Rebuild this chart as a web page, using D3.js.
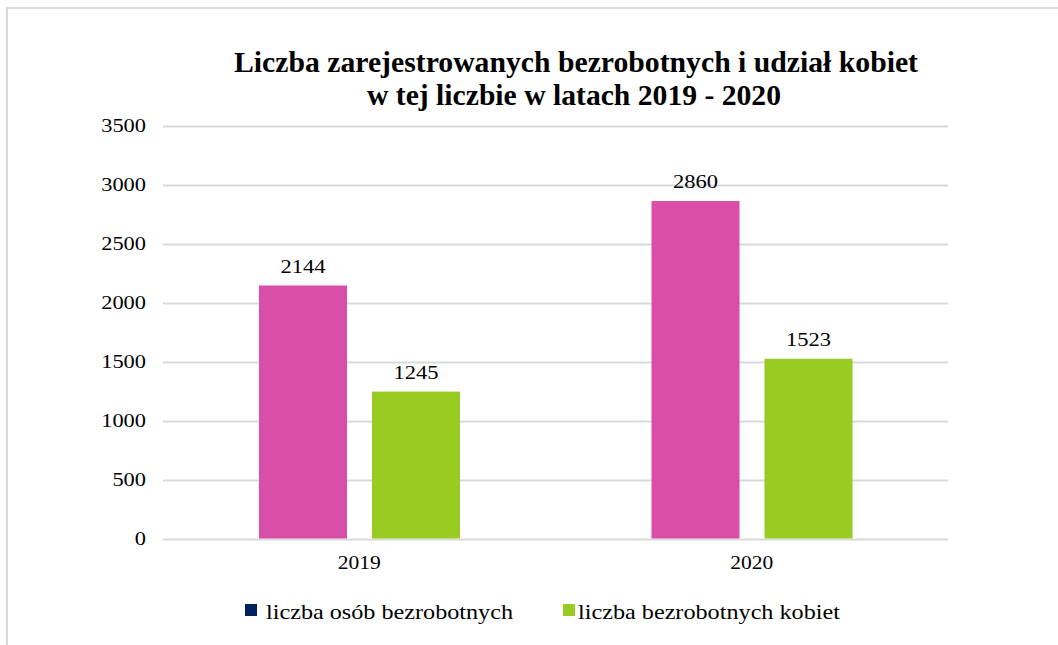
<!DOCTYPE html>
<html>
<head>
<meta charset="utf-8">
<script src="https://cdn.jsdelivr.net/npm/d3@7"></script>
<style>
  body { margin: 0; background: #fff; }
  text { font-family: "Liberation Serif", "Times New Roman", serif; fill: #000; }
</style>
</head>
<body>
<script>
// data
var years = ["2019", "2020"];
var seriesNames = ["liczba osób bezrobotnych", "liczba bezrobotnych kobiet"];
var totalUnemployed = [2144, 2860];
var womenUnemployed = [1245, 1523];
var yTicks = [0, 500, 1000, 1500, 2000, 2500, 3000, 3500];
var titleLines = ["Liczba zarejestrowanych bezrobotnych i udział  kobiet", "w tej liczbie  w latach 2019 - 2020"];

var w = 1058, h = 645;
var barColors = ["#d94ea6", "#99cc22"];
var legendColors = ["#002060", "#99cc22"];

var svg = d3.select("body").append("svg")
  .attr("width", w)
  .attr("height", h);

svg.append("rect").attr("width", w).attr("height", h).attr("fill", "#fff");

// chart area border (top + left visible)
svg.append("path")
  .attr("d", "M7,645 L7,8 L1058,8")
  .attr("fill", "none")
  .attr("stroke", "#d9d9d9")
  .attr("stroke-width", 2);

// title
svg.selectAll("text.title")
  .data(titleLines)
  .enter().append("text")
  .attr("class", "title")
  .attr("x", function(d, i) { return i == 0 ? 576 : 574; })
  .attr("y", function(d, i) { return 72 + i * 33; })
  .attr("text-anchor", "middle")
  .attr("font-size", 30)
  .attr("font-weight", "bold")
  .attr("textLength", function(d, i) { return i == 0 ? 684 : 414; })
  .attr("lengthAdjust", "spacingAndGlyphs")
  .text(function(d) { return d; });

var pLeft = 163, pRight = 948, pTop = 125.5, pBottom = 538.5;

var y = d3.scaleLinear().domain([0, 3500]).range([pBottom, pTop]);
var x0 = d3.scaleBand().domain(years).range([pLeft, pRight]);
var x1 = d3.scaleBand().domain([0, 1]).range([x0.bandwidth() * 0.2446, x0.bandwidth() * 0.7567]).paddingInner(0.221);

// gridlines
svg.append("g")
  .selectAll("line")
  .data(yTicks)
  .enter().append("line")
  .attr("x1", pLeft).attr("x2", pRight)
  .attr("y1", function(d) { return Math.round(y(d)) + 0.5; })
  .attr("y2", function(d) { return Math.round(y(d)) + 0.5; })
  .attr("stroke", "#d9d9d9")
  .attr("stroke-width", 2);

// y axis labels
var yAxis = d3.axisLeft(y).tickValues(yTicks).tickFormat(d3.format("d")).tickSize(0).tickPadding(0);
var ga = svg.append("g").attr("transform", "translate(146,0)").call(yAxis);
ga.select(".domain").remove();
ga.selectAll("text")
  .attr("font-size", 18)
  .attr("font-family", "Liberation Serif, serif")
  .attr("fill", "#000")
  .attr("dy", "0.35em")
  .attr("textLength", function(d) { return String(d).length * 11.2; })
  .attr("lengthAdjust", "spacingAndGlyphs");

// x axis labels
var xAxis = d3.axisBottom(x0).tickSize(0).tickPadding(0);
var gx = svg.append("g").attr("transform", "translate(0,563)").call(xAxis);
gx.select(".domain").remove();
gx.selectAll("text")
  .attr("font-size", 18)
  .attr("font-family", "Liberation Serif, serif")
  .attr("fill", "#000")
  .attr("dy", "0.35em")
  .attr("textLength", 43)
  .attr("lengthAdjust", "spacingAndGlyphs");

// bars
var rows = years.map(function(yr, i) {
  return { year: yr, values: [totalUnemployed[i], womenUnemployed[i]] };
});

var groups = svg.selectAll("g.year")
  .data(rows)
  .enter().append("g")
  .attr("class", "year")
  .attr("transform", function(d) { return "translate(" + x0(d.year) + ",0)"; });

groups.selectAll("rect")
  .data(function(d) { return d.values; })
  .enter().append("rect")
  .attr("x", function(d, i) { return x1(i); })
  .attr("width", x1.bandwidth())
  .attr("y", function(d) { return y(d); })
  .attr("height", function(d) { return pBottom - y(d); })
  .attr("fill", function(d, i) { return barColors[i]; });

groups.selectAll("text.val")
  .data(function(d) { return d.values; })
  .enter().append("text")
  .attr("class", "val")
  .attr("x", function(d, i) { return x1(i) + x1.bandwidth() / 2; })
  .attr("y", function(d) { return y(d) - 13; })
  .attr("text-anchor", "middle")
  .attr("font-size", 19)
  .attr("textLength", 45)
  .attr("lengthAdjust", "spacingAndGlyphs")
  .text(function(d) { return d; });

// legend
var legendX = [245, 563];
var legendLen = [247, 262];
var lg = svg.selectAll("g.legend")
  .data(seriesNames)
  .enter().append("g")
  .attr("class", "legend")
  .attr("transform", function(d, i) { return "translate(" + legendX[i] + ",0)"; });

lg.append("rect")
  .attr("x", 0).attr("y", 604)
  .attr("width", 12).attr("height", 12)
  .attr("fill", function(d, i) { return legendColors[i]; });

lg.append("text")
  .attr("x", function(d, i) { return i == 0 ? 21 : 15; })
  .attr("y", 619)
  .attr("font-size", 21)
  .attr("textLength", function(d, i) { return legendLen[i]; })
  .attr("lengthAdjust", "spacingAndGlyphs")
  .text(function(d) { return d; });
</script>
</body>
</html>
